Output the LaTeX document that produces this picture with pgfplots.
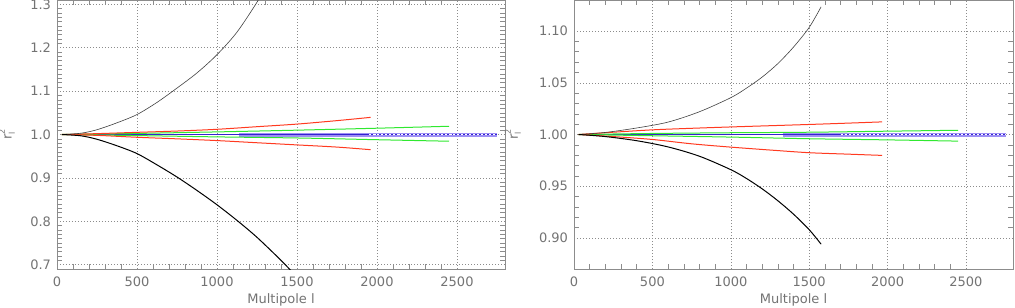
\documentclass[border=0pt]{standalone}
\usepackage{fontspec}
\setmainfont{DejaVu Sans}
\usepackage{pgfplots}
\pgfplotsset{compat=1.18}
\definecolor{cred}{HTML}{FF3A20}
\definecolor{cgreen}{HTML}{30E830}
\definecolor{cblue}{HTML}{3422D0}
\definecolor{cband}{HTML}{9D8FF5}
\definecolor{cax}{HTML}{8C8C8C}
\pgfplotsset{
  base/.style={
    scale only axis, height=269bp,
    xmin=0, xmax=2800,
    xtick={0,500,1000,1500,2000,2500}, minor x tick num=4,
    tick align=inside, major tick length=0bp, minor tick length=5bp,
    grid=major,
    major grid style={cax, line width=0.5bp, dash pattern=on 1bp off 2bp},
    minor tick style={cax, line width=0.5bp},
    axis line style={cax, line width=0.7bp},
    ticklabel style={text=black!55, font=\fontsize{13bp}{15bp}\selectfont},
    label style={text=black!55, font=\fontsize{13bp}{15bp}\selectfont},
    /pgf/number format/assume math mode=true,
    /pgf/number format/1000 sep={},
    xticklabel style={yshift=-4.5bp},
    yticklabel style={xshift=-2.5bp},
    xlabel={Multipole l},
    xlabel style={at={([yshift=-31bp]axis description cs:0.5,0)}, anchor=center},
    every axis plot/.append style={smooth, tension=0.5},
    clip=true,
  }
}
\newcommand{\rlab}{r\kern0.3pt\raisebox{-0.45ex}{\makebox[0pt][l]{\fontsize{8bp}{8bp}\selectfont l}}\raisebox{0.95ex}{\fontsize{8bp}{8bp}\selectfont 2}}
\begin{document}
\begin{tikzpicture}
\begin{axis}[base, at={(0,0)}, anchor=south west, width=448bp,
  ymin=0.69, ymax=1.31,
  ytick={0.7,0.8,0.9,1.0,1.1,1.2,1.3}, minor y tick num=9,
  yticklabel style={/pgf/number format/fixed, /pgf/number format/fixed zerofill, /pgf/number format/precision=1},
  ylabel={\rlab},
  ylabel style={at={([xshift=-50bp]axis description cs:0,0.5)}, anchor=center},
]
% band and blue
\addplot[cband, line width=4bp] coordinates {(1140,1.0) (2750,1.0)};
\addplot[cblue, line width=1.3bp] coordinates {(30,1.0) (2750,1.0)};
\addplot[white, line width=0.6bp, dash pattern=on 2bp off 2bp] coordinates {(1950,1.0) (2750,1.0)};
% green
\addplot[cgreen, line width=1bp] coordinates {(30,1.0) (500,1.0025) (1000,1.006) (1500,1.010) (2000,1.0145) (2450,1.019)};
\addplot[cgreen, line width=1bp] coordinates {(30,1.0) (500,0.9975) (1000,0.9945) (1500,0.992) (2000,0.988) (2450,0.9845)};
% red
\addplot[cred, line width=1bp] coordinates {(30,1.0) (250,1.002) (500,1.005) (750,1.008) (1000,1.012) (1250,1.018) (1500,1.024) (1750,1.032) (1960,1.0395)};
\addplot[cred, line width=1bp] coordinates {(30,1.0) (250,0.998) (500,0.9936) (750,0.990) (1000,0.986) (1250,0.981) (1500,0.976) (1750,0.971) (1960,0.965)};
% black
\addplot[black!75, line width=0.6bp] coordinates {(30,1.0) (150,1.003) (250,1.011) (375,1.027) (500,1.046) (625,1.074) (750,1.107) (875,1.142) (1000,1.184) (1125,1.236) (1250,1.305) (1300,1.340)};
\addplot[black, line width=1bp] coordinates {(30,1.0) (150,0.997) (250,0.989) (375,0.974) (500,0.956) (625,0.930) (750,0.902) (875,0.871) (1000,0.838) (1125,0.802) (1250,0.763) (1400,0.710) (1470,0.683)};
\end{axis}
\begin{axis}[base, at={(517bp,0)}, anchor=south west, width=439bp,
  ymin=0.87, ymax=1.13,
  ytick={0.90,0.95,1.00,1.05,1.10}, minor y tick num=4,
  yticklabel style={/pgf/number format/fixed, /pgf/number format/fixed zerofill, /pgf/number format/precision=2},
  ylabel={\rlab},
  ylabel style={at={([xshift=-61bp]axis description cs:0,0.5)}, anchor=center},
]
\addplot[cband, line width=4bp] coordinates {(1330,1.0) (2750,1.0)};
\addplot[cblue, line width=1.3bp] coordinates {(30,1.0) (2750,1.0)};
\addplot[white, line width=0.6bp, dash pattern=on 2bp off 2bp] coordinates {(1700,1.0) (2750,1.0)};
\addplot[cgreen, line width=1bp] coordinates {(30,1.0) (500,1.001) (1000,1.0017) (1500,1.0022) (2000,1.0032) (2450,1.0041)};
\addplot[cgreen, line width=1bp] coordinates {(30,1.0) (500,0.9988) (1000,0.9975) (1500,0.9959) (2000,0.9948) (2450,0.9936)};
\addplot[cred, line width=1bp] coordinates {(30,1.0) (250,1.0022) (500,1.0045) (750,1.006) (1000,1.0073) (1250,1.0085) (1500,1.0097) (1750,1.011) (1965,1.0122)};
\addplot[cred, line width=1bp] coordinates {(30,1.0) (250,0.998) (500,0.9952) (750,0.991) (1000,0.9878) (1250,0.985) (1500,0.9824) (1750,0.981) (1965,0.9798)};
\addplot[black!75, line width=0.6bp] coordinates {(30,1.0) (200,1.002) (400,1.0063) (600,1.012) (800,1.022) (1000,1.0356) (1100,1.0448) (1200,1.0555) (1300,1.0685) (1400,1.0845) (1500,1.1035) (1576,1.1234)};
\addplot[black, line width=1bp] coordinates {(30,1.0) (200,0.998) (400,0.994) (600,0.988) (800,0.979) (1000,0.966) (1100,0.9575) (1200,0.9475) (1300,0.936) (1400,0.923) (1500,0.908) (1576,0.894)};
\end{axis}
\pgfresetboundingbox
\useasboundingbox (-57bp,-39bp) rectangle (958bp,269bp);
\end{tikzpicture}
\end{document}
